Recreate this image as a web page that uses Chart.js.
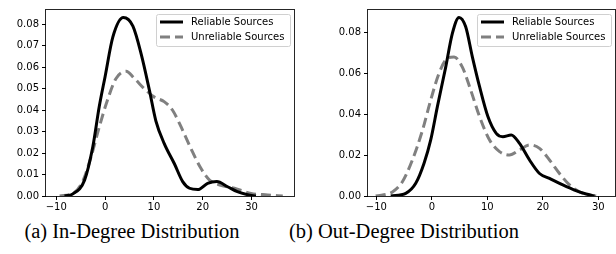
<!DOCTYPE html>
<html>
<head>
<meta charset="utf-8">
<script src="https://cdn.jsdelivr.net/npm/chart.js@4.4.0/dist/chart.umd.min.js"></script>
<style>
    body { margin: 0; background: #fff; }
    #wrap { position: relative; width: 616px; height: 254px; overflow: hidden; }
    .plot { position: absolute; top: 0; width: 308px; height: 214px; }
    #plot-in { left: 0; }
    #plot-out { left: 308px; }
    .caption {
        position: absolute; top: 220px; width: 300px; text-align: center;
        font-family: "Liberation Serif", "DejaVu Serif", serif; font-size: 20.5px; color: #000;
        white-space: nowrap;
    }
</style>
</head>
<body>
<div id="wrap">
    <div class="plot" id="plot-in"><canvas id="chart-in" width="308" height="214"></canvas></div>
    <div class="plot" id="plot-out"><canvas id="chart-out" width="308" height="214"></canvas></div>
    <div class="caption" style="left: -18px;">(a) In-Degree Distribution</div>
    <div class="caption" style="left: 254px;">(b) Out-Degree Distribution</div>
</div>
<script>
// series labels
const seriesLabels = ['Reliable Sources', 'Unreliable Sources'];

// (a) in-degree density curves
const inReliableX = [-8.3, -6.6, -4.2, -2.5, -1.2, 0, 1.6, 3.75, 5.7, 7.4, 9.1, 10.4, 12.1, 14.2, 15.9, 17.3, 19.0, 21.0, 22.9, 25.1, 27.1, 29.2, 30.9];
const inReliableY = [0, 0.001, 0.0074, 0.023, 0.0415, 0.0555, 0.074, 0.083, 0.079, 0.066, 0.049, 0.035, 0.0245, 0.015, 0.0067, 0.0036, 0.003, 0.0059, 0.0067, 0.0043, 0.002, 0.0006, 0];
const inUnreliableX = [-9.3, -6.6, -4.6, -2.9, -1.2, 0.5, 2.25, 4.3, 6.0, 8.0, 10.1, 12.1, 13.8, 15.6, 17.6, 19.6, 21.4, 23.7, 26.5, 29.9, 33.3, 36.4];
const inUnreliableY = [0, 0.0012, 0.0067, 0.018, 0.032, 0.0447, 0.0547, 0.058, 0.0547, 0.050, 0.046, 0.0439, 0.040, 0.032, 0.022, 0.013, 0.0074, 0.005, 0.0036, 0.0012, 0.0005, 0];

// (b) out-degree density curves
const outReliableX = [-7.4, -4.7, -2.9, -1.4, -0.2, 1.0, 2.5, 3.7, 4.9, 6.1, 7.3, 8.6, 10.1, 11.6, 12.8, 14.3, 15.8, 17.6, 19.4, 21.2, 23.6, 25.7, 27.8, 29.3];
const outReliableY = [0, 0.0013, 0.0062, 0.016, 0.0274, 0.0437, 0.063, 0.0795, 0.0873, 0.0827, 0.068, 0.0534, 0.0388, 0.0306, 0.029, 0.0298, 0.0257, 0.0176, 0.011, 0.0086, 0.0054, 0.0029, 0.001, 0];
const outUnreliableX = [-10.1, -7.1, -5.3, -3.5, -1.7, -0.2, 1.3, 2.8, 4.0, 5.5, 7.0, 8.6, 10.4, 12.2, 14.0, 15.8, 17.6, 19.4, 21.2, 23.0, 24.8, 26.6, 28.4, 29.6];
const outUnreliableY = [0, 0.002, 0.007, 0.0176, 0.032, 0.0469, 0.06, 0.0673, 0.068, 0.063, 0.0518, 0.0388, 0.0274, 0.0217, 0.02, 0.0225, 0.025, 0.0233, 0.0176, 0.011, 0.0054, 0.002, 0.0005, 0];

// tick labels
const xTicks = [-10, 0, 10, 20, 30];
const inYTicks = [0, 0.01, 0.02, 0.03, 0.04, 0.05, 0.06, 0.07, 0.08];
const outYTicks = [0, 0.02, 0.04, 0.06, 0.08];

const toPoints = (xs, ys) => xs.map((x, i) => ({ x: x, y: ys[i] }));

// box around the plot area plus a matplotlib-like legend inside it
const framePlugin = {
    id: 'frame',
    afterDatasetsDraw(chart) {
        const { ctx, chartArea: a } = chart;
        ctx.save();
        ctx.strokeStyle = 'rgba(0,0,0,0.85)';
        ctx.lineWidth = 1;
        ctx.strokeRect(Math.round(a.left) - 0.5, Math.round(a.top) + 0.5,
            Math.round(a.right - a.left) + 1, Math.round(a.bottom - a.top));

        // legend
        const w = 134, h = 32;
        const bx = a.right - 4 - w, by = a.top + 5;
        ctx.fillStyle = 'rgba(255,255,255,0.8)';
        ctx.strokeStyle = '#d0d0d0';
        ctx.lineWidth = 1;
        ctx.beginPath();
        ctx.roundRect(bx + 0.5, by + 0.5, w, h, 2);
        ctx.fill();
        ctx.stroke();
        ctx.font = '10px "DejaVu Sans"';
        ctx.textBaseline = 'middle';
        chart.data.datasets.forEach((ds, i) => {
            const ry = by + 8 + i * 15;
            ctx.strokeStyle = ds.borderColor;
            ctx.lineWidth = ds.borderWidth;
            ctx.setLineDash(ds.borderDash || []);
            ctx.beginPath();
            ctx.moveTo(bx + 4, ry);
            ctx.lineTo(bx + 27, ry);
            ctx.stroke();
            ctx.setLineDash([]);
            ctx.fillStyle = '#000';
            ctx.fillText(ds.label, bx + 35, ry);
        });
        ctx.restore();
    }
};

function makeChart(canvasId, relX, relY, unrelX, unrelY, xRange, yMax, yTicks, yWidth, padRight) {
    return new Chart(document.getElementById(canvasId), {
        type: 'line',
        data: {
            datasets: [{
                label: seriesLabels[0],
                data: toPoints(relX, relY),
                borderColor: '#000000',
                borderWidth: 3,
                pointRadius: 0,
                cubicInterpolationMode: 'monotone',
                fill: false
            }, {
                label: seriesLabels[1],
                data: toPoints(unrelX, unrelY),
                borderColor: '#808080',
                borderWidth: 3,
                borderDash: [10, 5],
                pointRadius: 0,
                cubicInterpolationMode: 'monotone',
                fill: false
            }]
        },
        options: {
            responsive: false,
            animation: false,
            layout: { padding: { top: 9, right: padRight, left: 0, bottom: 0 } },
            plugins: { legend: { display: false }, tooltip: { enabled: false } },
            scales: {
                x: {
                    type: 'linear',
                    min: xRange[0],
                    max: xRange[1],
                    afterBuildTicks: scale => { scale.ticks = xTicks.map(v => ({ value: v })); },
                    afterFit: scale => { scale.height = 18; },
                    border: { display: false },
                    grid: { drawOnChartArea: false, drawTicks: true, tickLength: 4, tickColor: '#000' },
                    ticks: {
                        color: '#000',
                        padding: 1,
                        maxRotation: 0,
                        font: { family: 'DejaVu Sans', size: 10 },
                        callback: v => (v < 0 ? '\u2212' + Math.abs(v) : String(v))
                    }
                },
                y: {
                    min: 0,
                    max: yMax,
                    afterBuildTicks: scale => { scale.ticks = yTicks.map(v => ({ value: v })); },
                    afterFit: scale => { scale.width = yWidth; },
                    border: { display: false },
                    grid: { drawOnChartArea: false, drawTicks: true, tickLength: 4, tickColor: '#000' },
                    ticks: {
                        color: '#000',
                        padding: 3,
                        font: { family: 'DejaVu Sans', size: 10 },
                        callback: v => v.toFixed(2)
                    }
                }
            }
        },
        plugins: [framePlugin]
    });
}

document.addEventListener('DOMContentLoaded', () => {
    makeChart('chart-in', inReliableX, inReliableY, inUnreliableX, inUnreliableY,
        [-12.1, 38.7], 0.087, inYTicks, 46, 14);
    makeChart('chart-out', outReliableX, outReliableY, outUnreliableX, outUnreliableY,
        [-11.5, 33], 0.0914, outYTicks, 60, 1);
});
</script>
</body>
</html>
